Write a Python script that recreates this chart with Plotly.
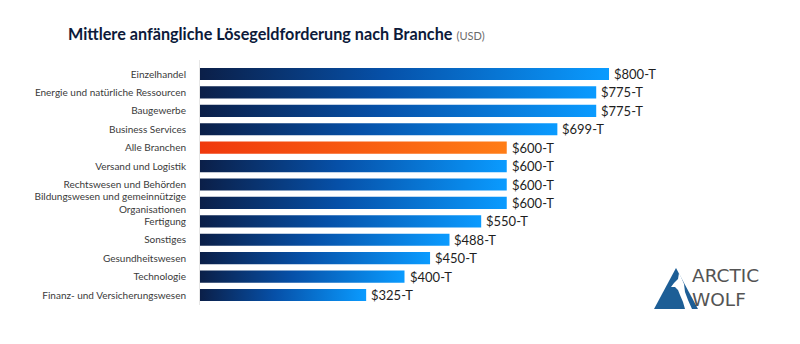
import plotly.graph_objects as go

# Median initial ransom demand by industry (thousand USD)
categories = [
    "Einzelhandel",
    "Energie und natürliche Ressourcen",
    "Baugewerbe",
    "Business Services",
    "Alle Branchen",
    "Versand und Logistik",
    "Rechtswesen und Behörden",
    "Bildungswesen und gemeinnützige<br>Organisationen",
    "Fertigung",
    "Sonstiges",
    "Gesundheitswesen",
    "Technologie",
    "Finanz- und Versicherungswesen",
]
values = [800, 775, 775, 699, 600, 600, 600, 600, 550, 488, 450, 400, 325]
value_labels = ["$800-T", "$775-T", "$775-T", "$699-T", "$600-T", "$600-T", "$600-T",
                "$600-T", "$550-T", "$488-T", "$450-T", "$400-T", "$325-T"]
highlight = "Alle Branchen"

BLUE_SCALE = [[0, "#0b1f48"], [0.45, "#0650a8"], [1, "#0a9bff"]]
ORANGE_SCALE = [[0, "#f0380c"], [1, "#ff7d16"]]
BAR_HALF = 0.33

W, H = 800, 344
M_L, M_R, M_T, M_B = 200, 0, 60, 39
PLOT_W = W - M_L - M_R
PLOT_H = H - M_T - M_B


def px_x(x):
    """Canvas pixel column -> paper x."""
    return (x - M_L) / PLOT_W


def px_y(y):
    """Canvas pixel row (from top) -> paper y."""
    return (H - M_B - y) / PLOT_H


fig = go.Figure()

# Each bar is a filled polygon so it can carry its own left-to-right gradient
for i, (cat, v) in enumerate(zip(categories, values)):
    scale = ORANGE_SCALE if cat == highlight else BLUE_SCALE
    fig.add_trace(go.Scatter(
        x=[0, v, v, 0, 0],
        y=[i - BAR_HALF, i - BAR_HALF, i + BAR_HALF, i + BAR_HALF, i - BAR_HALF],
        mode="lines",
        line=dict(width=0),
        fill="toself",
        fillgradient=dict(type="horizontal", colorscale=scale),
        hoverinfo="skip",
        showlegend=False,
    ))

# Value labels at bar ends
for i, (v, lab) in enumerate(zip(values, value_labels)):
    fig.add_annotation(
        x=v, y=i, xref="x", yref="y", text=lab, showarrow=False,
        xanchor="left", yanchor="middle", xshift=3,
        font=dict(family="Lato", size=13, color="#1e1e1e"),
    )

# Title with unit suffix
fig.add_annotation(
    x=px_x(66), y=px_y(33), xref="paper", yref="paper",
    text="<b>Mittlere anfängliche Lösegeldforderung nach Branche</b> "
         "<span style='font-size:11px;color:#6b6b6b'>(USD)</span>",
    showarrow=False, xanchor="left", yanchor="middle",
    font=dict(family="Lato", size=16.2, color="#0d1a3a"),
)


# Brand mark in the lower right
def path(points):
    return "M " + " L ".join(f"{px_x(x)},{px_y(y)}" for x, y in points) + " Z"


fig.add_shape(type="path", xref="paper", yref="paper",
              path=path([(676, 268), (654, 309), (698, 309)]),
              fillcolor="#1d5e96", line=dict(width=0), layer="above")
fig.add_shape(type="path", xref="paper", yref="paper",
              path=path([(679, 273), (678, 279), (674, 283), (671, 287), (675, 287),
                         (678, 290), (680, 295), (683, 302), (685, 309), (692, 309),
                         (688, 300), (685, 292), (684, 284), (681, 277)]),
              fillcolor="white", line=dict(width=0), layer="above")
fig.add_annotation(x=px_x(690), y=px_y(287.5), xref="paper", yref="paper",
                   text="ARCTIC<br>WOLF", align="left",
                   showarrow=False, xanchor="left", yanchor="middle",
                   font=dict(family="DejaVu Sans", size=18.5, color="#545454"))

px_per_unit = 409 / 800
row_px = 18.42
top_units = -14 / row_px

fig.update_layout(
    width=W, height=H,
    margin=dict(l=M_L, r=M_R, t=M_T, b=M_B),
    paper_bgcolor="white", plot_bgcolor="white",
    xaxis=dict(range=[0, PLOT_W / px_per_unit], visible=False, fixedrange=True),
    yaxis=dict(
        range=[top_units + PLOT_H / row_px, top_units],
        tickmode="array", tickvals=list(range(len(categories))), ticktext=categories,
        showgrid=False, zeroline=False,
        showline=True, linecolor="#e6e6e6", linewidth=1,
        ticks="", ticklabelstandoff=11,
        tickfont=dict(family="Lato", size=10, color="#3a3a3a"),
        fixedrange=True,
    ),
    showlegend=False,
)
fig.write_html("out.html")
